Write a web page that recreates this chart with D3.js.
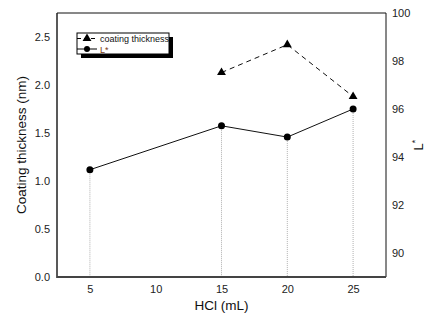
<!DOCTYPE html>
<html><head><meta charset="utf-8">
<script src="https://cdn.jsdelivr.net/npm/d3@7"></script>
<style>body{margin:0;background:#fff}svg{display:block}text{font-family:"Liberation Sans",Arial,sans-serif}</style>
</head><body>
<script>
const hclX = [5, 15, 20, 25];
const thicknessX = [15, 20, 25];
const thicknessVals = [2.13, 2.42, 1.88];
const lStarVals = [93.47, 95.30, 94.83, 96.0];
const xTicks = [5, 10, 15, 20, 25];
const leftTicks = [0.0, 0.5, 1.0, 1.5, 2.0, 2.5];
const rightTicks = [90, 92, 94, 96, 98, 100];
const legendLabels = ["coating thickness", "L*"];

const W = 434, H = 325;
const m = {l: 57, t: 13, r: 386, b: 277};
const svg = d3.select("body").append("svg").attr("width", W).attr("height", H);

const x = d3.scaleLinear().domain([2.5, 27.5]).range([m.l, m.r]);
const yL = d3.scaleLinear().domain([0, 2.75]).range([m.b, m.t]);
const yR = d3.scaleLinear().domain([89, 100]).range([m.b, m.t]);

// drop lines
svg.append("g").selectAll("line").data(hclX).join("line")
  .attr("x1", d => x(d)).attr("x2", d => x(d))
  .attr("y1", (d, i) => yR(lStarVals[i])).attr("y2", m.b)
  .attr("stroke", "#b0b0b0").attr("stroke-width", 1).attr("stroke-dasharray", "1,1");

// axes (no tick marks)
const fs = "11px";
const gx = svg.append("g").attr("transform", `translate(0,${m.b})`)
  .call(d3.axisBottom(x).tickValues(xTicks).tickSize(0).tickPadding(8).tickFormat(d3.format("d")));
const gl = svg.append("g").attr("transform", `translate(${m.l},0)`)
  .call(d3.axisLeft(yL).tickValues(leftTicks).tickSize(0).tickPadding(7).tickFormat(d3.format(".1f")));
const gr = svg.append("g").attr("transform", `translate(${m.r},0)`)
  .call(d3.axisRight(yR).tickValues(rightTicks).tickSize(0).tickPadding(6).tickFormat(d3.format("d")));
[gx, gl, gr].forEach(g => {
  g.select(".domain").remove();
  g.selectAll("text").attr("font-size", fs).attr("fill", "#222").style("font-family", '"Liberation Sans",Arial,sans-serif');
});

// frame
svg.append("line").attr("x1", m.l).attr("x2", m.r).attr("y1", m.t).attr("y2", m.t).attr("stroke", "#111").attr("stroke-width", 1);
svg.append("line").attr("x1", m.r).attr("x2", m.r).attr("y1", m.t).attr("y2", m.b).attr("stroke", "#111").attr("stroke-width", 1);
svg.append("line").attr("x1", m.l).attr("x2", m.l).attr("y1", m.t).attr("y2", m.b + 1).attr("stroke", "#222").attr("stroke-width", 1.5);
svg.append("line").attr("x1", m.l).attr("x2", m.r).attr("y1", m.b).attr("y2", m.b).attr("stroke", "#444").attr("stroke-width", 2);

// L* line
const lData = hclX.map((d, i) => [d, lStarVals[i]]);
svg.append("path").datum(lData)
  .attr("d", d3.line().x(d => x(d[0])).y(d => yR(d[1])))
  .attr("fill", "none").attr("stroke", "#111").attr("stroke-width", 1);
svg.append("g").selectAll("circle").data(lData).join("circle")
  .attr("cx", d => x(d[0])).attr("cy", d => yR(d[1])).attr("r", 3.5).attr("fill", "#000");

// thickness line
const tData = thicknessX.map((d, i) => [d, thicknessVals[i]]);
svg.append("path").datum(tData)
  .attr("d", d3.line().x(d => x(d[0])).y(d => yL(d[1])))
  .attr("fill", "none").attr("stroke", "#111").attr("stroke-width", 1).attr("stroke-dasharray", "5,4");
const tri = d3.symbol().type(d3.symbolTriangle).size(34);
svg.append("g").selectAll("path").data(tData).join("path")
  .attr("d", tri).attr("transform", d => `translate(${x(d[0])},${yL(d[1])})`).attr("fill", "#000");

// axis titles
svg.append("text").attr("transform", `translate(26,${(m.t + m.b) / 2}) rotate(-90)`)
  .attr("text-anchor", "middle").attr("font-size", "13.5px").attr("fill", "#111").text("Coating thickness (nm)");
svg.append("text").attr("x", (m.l + m.r) / 2).attr("y", 310)
  .attr("text-anchor", "middle").attr("font-size", "13.5px").attr("fill", "#111").text("HCl (mL)");
const rt = svg.append("text").attr("transform", `translate(423,${(m.t + m.b) / 2}) rotate(-90)`)
  .attr("text-anchor", "middle").attr("font-size", "13px").attr("fill", "#111");
rt.append("tspan").text("L");
rt.append("tspan").attr("dy", -5).attr("font-size", "9px").text("*");

// legend
const lg = {x: 77, y: 33, w: 92, h: 21};
svg.append("rect").attr("x", lg.x + 4).attr("y", lg.y + 4).attr("width", lg.w).attr("height", lg.h).attr("fill", "#000");
svg.append("rect").attr("x", lg.x).attr("y", lg.y).attr("width", lg.w).attr("height", lg.h).attr("fill", "#fff").attr("stroke", "#000").attr("stroke-width", 1);
const rows = [38.5, 49];
legendLabels.forEach((lab, i) => {
  const yy = rows[i];
  svg.append("line").attr("x1", lg.x).attr("x2", lg.x + 20).attr("y1", yy).attr("y2", yy)
    .attr("stroke", "#000").attr("stroke-width", 1).attr("stroke-dasharray", i === 0 ? "4,3" : null);
  if (i === 0) {
    svg.append("path").attr("d", tri).attr("transform", `translate(${lg.x + 10},${yy})`).attr("fill", "#000");
  } else {
    svg.append("circle").attr("cx", lg.x + 10).attr("cy", yy).attr("r", 3).attr("fill", "#000");
  }
  svg.append("text").attr("x", lg.x + 23).attr("y", yy + 3.5).attr("font-size", "9px")
    .attr("fill", i === 0 ? "#111" : "#7a3a10").text(lab);
});
</script>
</body></html>
